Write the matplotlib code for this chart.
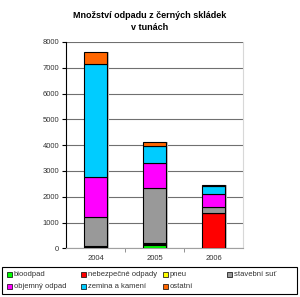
import matplotlib.pyplot as plt
import matplotlib.patches as mpatches
import numpy as np

plt.rcParams['font.family'] = ['Liberation Sans', 'DejaVu Sans']

# data (tons per year)
years = ['2004', '2005', '2006']
bioodpad = [40, 130, 0]
nebezpecne = [40, 40, 1356]
pneu = [0, 30, 0]
stavebni = [1120, 2125, 256]
objemny = [1570, 985, 493]
zemina = [4380, 655, 320]
ostatni = [450, 165, 30]

series = [
    ('bioodpad', bioodpad, '#00ff00'),
    ('nebezpečné odpady', nebezpecne, '#ff0000'),
    ('pneu', pneu, '#ffff00'),
    ('stavební suť', stavebni, '#999999'),
    ('objemný odpad', objemny, '#ff00ff'),
    ('zemina a kamení', zemina, '#00ccff'),
    ('ostatní', ostatni, '#ff6600'),
]

W, H = 300, 297
fig = plt.figure(figsize=(W / 100, H / 100), dpi=100)
ax = fig.add_axes([66 / W, 1 - 248.3 / H, 177 / W, 206.3 / H])

x = np.arange(len(years))
bottom = np.zeros(len(years))
for name, vals, col in series:
    vals = np.array(vals, dtype=float)
    # light shadow on the right side of each bar
    ax.bar(x + 0.03, vals, 0.39, bottom=bottom, color='#c0c0c0', linewidth=0, zorder=2)
    ax.bar(x, vals, 0.39, bottom=bottom, color=col, edgecolor='black', linewidth=0.8, zorder=3, label=name)
    bottom += vals

ax.set_xlim(-0.5, 2.5)
ax.set_ylim(0, 8000)
ax.set_yticks(range(0, 8001, 1000))
ax.yaxis.grid(True, color='#707070', linewidth=0.8)
ax.set_axisbelow(True)
ax.set_xticks(x)
ax.set_xticklabels(years)
ax.set_xticks([0.5, 1.5], minor=True)
ax.tick_params(axis='x', which='major', length=0, labelsize=5.5, pad=5, labelcolor='#333333')
ax.tick_params(axis='x', which='minor', length=3, color='#808080')
ax.tick_params(axis='y', length=3, labelsize=5.5, pad=2, labelcolor='#333333')

ax.spines['left'].set_color('black')
ax.spines['bottom'].set_color('#a0a0a0')
ax.spines['top'].set_visible(False)
ax.spines['right'].set_color('#d8d8d8')

fig.text(0.5, 1 - 21.5 / H, 'Množství odpadu z černých skládek\nv tunách', ha='center', va='center',
         fontsize=6.5, fontweight='bold', linespacing=1.5)

# legend drawn like the spreadsheet one: filled row by row, uneven columns
fig.patches.append(mpatches.Rectangle((2 / W, 1 - 294 / H), 295 / W, 27 / H, transform=fig.transFigure,
                                      facecolor='white', edgecolor='black', linewidth=0.8))
col_x = [7, 81, 163, 227]
row_y = [274, 286]
for i, (name, vals, col) in enumerate(series):
    cx = col_x[i % 4]
    cy = row_y[i // 4]
    fig.patches.append(mpatches.Rectangle((cx / W, 1 - (cy + 2.5) / H), 5 / W, 5 / H,
                                          transform=fig.transFigure, facecolor=col,
                                          edgecolor='black', linewidth=0.5))
    fig.text((cx + 7) / W, 1 - cy / H, name, ha='left', va='center', fontsize=5.5, color='#333333')

fig.savefig('out.png', dpi=100)
